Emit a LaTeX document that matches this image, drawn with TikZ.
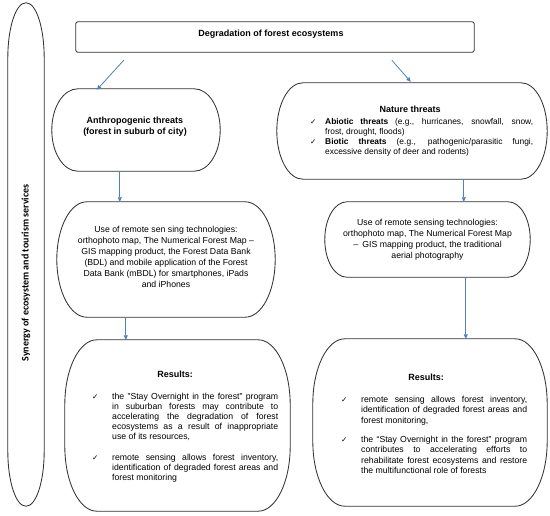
\documentclass[tikz,border=0pt]{standalone}
\usepackage{fontspec}
\setmainfont{Liberation Sans}
\newfontfamily\calfont{Carlito}
\newfontfamily\djv{DejaVu Sans}
\usetikzlibrary{arrows.meta,calc}
\definecolor{arrowblue}{RGB}{79,129,189}
\definecolor{linegray}{RGB}{51,51,51}

\newcommand\outlinebox[3]{%
  \draw[boxline] ($(#1.north west)+(#2,0)$) -- ($(#1.north east)+(-#2,0)$)
    arc[start angle=90,end angle=0,x radius=#2pt,y radius=#3pt]
    -- ($(#1.south east)+(0,#3)$)
    arc[start angle=0,end angle=-90,x radius=#2pt,y radius=#3pt]
    -- ($(#1.south west)+(#2,0)$)
    arc[start angle=-90,end angle=-180,x radius=#2pt,y radius=#3pt]
    -- ($(#1.north west)+(0,-#3)$)
    arc[start angle=180,end angle=90,x radius=#2pt,y radius=#3pt] -- cycle;}
\newcommand\titleline[3]{\noindent\makebox[#1]{\hspace*{#2}\bfseries\fontsize{9}{10}\selectfont #3}\par}
\newcommand\chk[2]{\par\hangindent=#1\relax\hangafter=0\relax\noindent\llap{\makebox[#1][l]{\djv\fontsize{7.5}{7.5}\selectfont ✓}}#2\par}

\tikzset{
  boxline/.style={line width=0.85pt, draw=linegray},
  frame/.style={rectangle, inner sep=0pt},
  arr/.style={draw=arrowblue, line width=0.8pt, -{Triangle[length=4.5pt,width=4pt]}},
  bodytext/.style={inner sep=0pt, font=\fontsize{8.7}{11}\selectfont},
  titletext/.style={inner sep=0pt, font=\bfseries\fontsize{9}{10.8}\selectfont}
}

\begin{document}
\begin{tikzpicture}[x=1pt,y=1pt]
\useasboundingbox (0,0) rectangle (550,-516);

% frames
\node[frame, minimum width=36pt, minimum height=503pt] (syn) at (26,-254.5) {};
\node[frame, minimum width=398pt, minimum height=30pt] (deg) at (275,-37) {};
\node[frame, minimum width=168pt, minimum height=82pt] (anthro) at (136,-130) {};
\node[frame, minimum width=270pt, minimum height=96pt] (nature) at (412,-131) {};
\node[frame, minimum width=218pt, minimum height=115pt] (useL) at (166,-259.5) {};
\node[frame, minimum width=205pt, minimum height=75pt] (useR) at (427.5,-239.5) {};
\node[frame, minimum width=225pt, minimum height=171pt] (resL) at (177.5,-425.5) {};
\node[frame, minimum width=234pt, minimum height=167pt] (resR) at (430,-422.5) {};

\outlinebox{syn}{18}{55}
\draw[boxline, rounded corners=2pt] (deg.north west) rectangle (deg.south east);
\outlinebox{anthro}{26}{41}
\outlinebox{nature}{26}{48}
\outlinebox{useL}{30}{57.5}
\outlinebox{useR}{22}{37.5}
\outlinebox{resL}{32}{65}
\outlinebox{resR}{32}{65}

% texts
\node[rotate=90, inner sep=0pt, font=\calfont\bfseries\fontsize{10}{11}\selectfont] (synT) at (26,-273) {Synergy of ecosystem and tourism services};
\node[titletext] (degT) at (271,-34) {Degradation of forest ecosystems};
\node[titletext, align=center] (anthroT) at (135,-127) {Anthropogenic threats\\(forest in suburb of city)};

\node[inner sep=0pt, anchor=north west, text width=223pt, align=justify, font=\fontsize{8.4}{9.6}\selectfont] (natT) at (310,-105.6) {%
\titleline{223pt}{-23pt}{Nature threats}
\vspace{2.6pt}
\chk{15pt}{\textbf{Abiotic threats} (e.g., hurricanes, snowfall, snow,\linebreak frost, drought, floods)}
\vspace{0.8pt}
\chk{15pt}{\textbf{Biotic threats} (e.g., pathogenic/parasitic fungi,\linebreak excessive density of deer and rodents)}};

\node[bodytext, align=center] (useLT) at (166,-257) {Use of remote sen sing technologies:\\orthophoto map, The Numerical Forest Map –\\GIS mapping product, the Forest Data Bank\\(BDL) and mobile application of the Forest\\Data Bank (mBDL) for smartphones, iPads\\and iPhones};
\node[bodytext, align=center] (useRT) at (427.5,-240) {Use of remote sensing technologies:\\orthophoto map, The Numerical Forest Map\\–\enspace GIS mapping product, the traditional\\aerial photography};

\node[inner sep=0pt, anchor=north west, text width=186pt, align=justify, font=\fontsize{8.7}{10}\selectfont] (resLT) at (92,-370.6) {%
\titleline{186pt}{-20pt}{Results:}
\vspace{12pt}
\chk{20pt}{the "Stay Overnight in the forest" program\linebreak in suburban forests may contribute to\linebreak accelerating the degradation of forest\linebreak ecosystems as a result of inappropriate\linebreak use of its resources,}
\vspace{11pt}
\chk{20pt}{remote sensing allows forest inventory,\linebreak identification of degraded forest areas and\linebreak forest monitoring}};

\node[inner sep=0pt, anchor=north west, text width=186pt, align=justify, font=\fontsize{8.7}{10.5}\selectfont] (resRT) at (341,-373.5) {%
\titleline{186pt}{-16pt}{Results:}
\vspace{11.5pt}
\chk{20pt}{remote sensing allows forest inventory,\linebreak identification of degraded forest areas and\linebreak forest monitoring,}
\vspace{8.5pt}
\chk{20pt}{the “Stay Overnight in the forest” program\linebreak contributes to accelerating efforts to\linebreak rehabilitate forest ecosystems and restore\linebreak the multifunctional role of forests}};

% arrows
\draw[arr] ($(deg.south west)+(48,-8)$) -- ($(anthro.north west)+(45,-1)$);
\draw[arr] ($(deg.south west)+(316,-8)$) -- ($(nature.north west)+(134,1)$);
\draw[arr] ($(anthro.south west)+(68,0)$) -- ($(useL.north west)+(63,0)$);
\draw[arr] ($(nature.south west)+(187,0)$) -- ($(useR.north west)+(139,0)$);
\draw[arr] ($(useL.south west)+(69,0)$) -- ($(resL.north west)+(61,0)$);
\draw[arr] ($(useR.south west)+(141,0)$) -- ($(resR.north west)+(153,0)$);
\end{tikzpicture}
\end{document}
